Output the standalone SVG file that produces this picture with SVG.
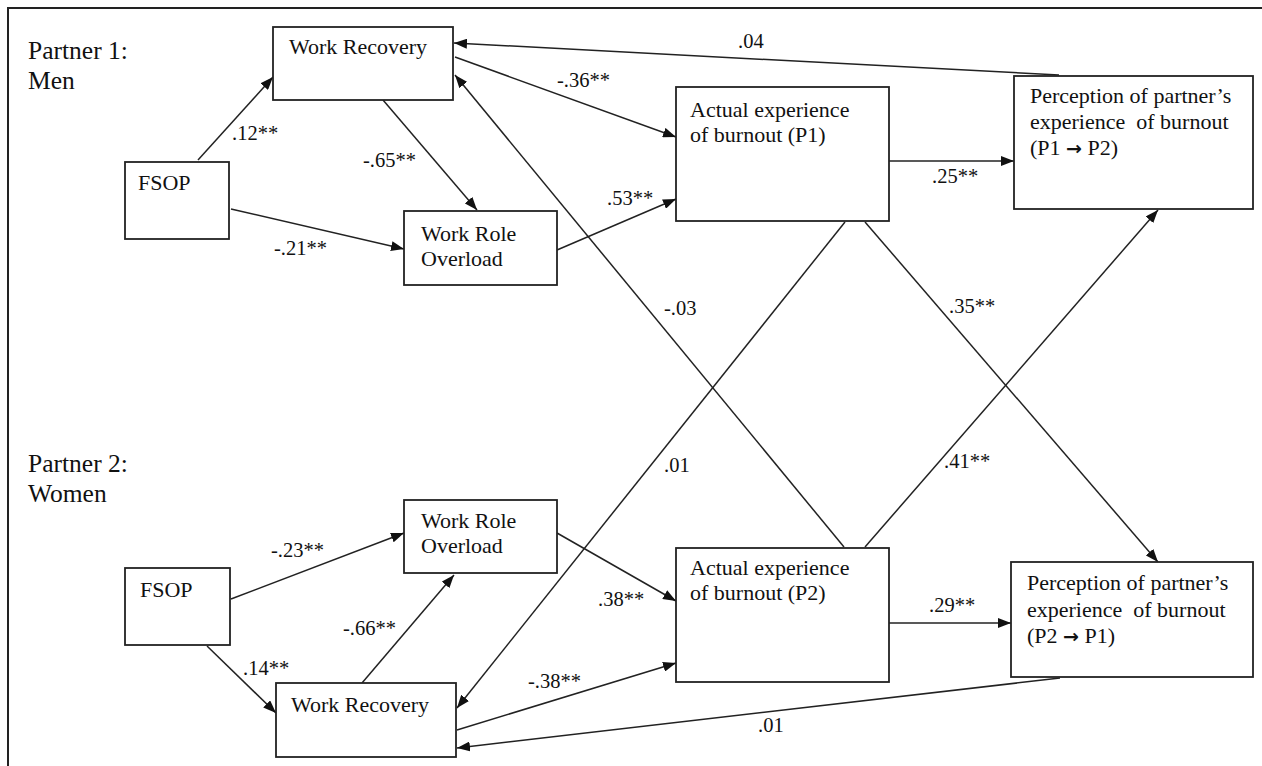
<svg xmlns="http://www.w3.org/2000/svg" width="1262" height="766" viewBox="0 0 1262 766">
<style>
.box{fill:#fff;stroke:#222;stroke-width:1.8}
.lbl{font-family:"Liberation Serif","Times New Roman",serif;font-size:22px;fill:#111}
.part{font-family:"Liberation Serif","Times New Roman",serif;font-size:25.5px;fill:#111}
.coef{font-family:"Liberation Serif","Times New Roman",serif;font-size:20.5px;fill:#111}
.ar{font-family:"DejaVu Sans",sans-serif;font-size:19px;font-weight:bold}
.edge{fill:none;stroke:#222;stroke-width:1.5;marker-end:url(#arr)}
</style>
<defs>
<marker id="arr" markerUnits="userSpaceOnUse" markerWidth="13" markerHeight="10" refX="13" refY="5" orient="auto">
<path d="M0,0 L13,5 L0,10 z" fill="#111"/>
</marker>
</defs>
<rect width="1262" height="766" fill="#fff"/>
<path d="M8,766 L8,8 L1262,8" fill="none" stroke="#222" stroke-width="2"/>
<text class="part" x="28" y="59">Partner 1:</text>
<text class="part" x="28" y="89">Men</text>
<text class="part" x="28" y="472">Partner 2:</text>
<text class="part" x="28" y="502">Women</text>

<g id="connectors">
<line class="edge" x1="198" y1="160" x2="273" y2="77"/>
<line class="edge" x1="231" y1="209" x2="404" y2="249"/>
<line class="edge" x1="383" y1="100" x2="477" y2="210"/>
<line class="edge" x1="455" y1="57" x2="676" y2="137"/>
<line class="edge" x1="557" y1="250" x2="676" y2="199"/>
<line class="edge" x1="1059" y1="75" x2="454" y2="43"/>
<line class="edge" x1="889" y1="161" x2="1014" y2="161"/>
<line class="edge" x1="844" y1="547" x2="455" y2="75"/>
<line class="edge" x1="845" y1="222" x2="457" y2="708"/>
<line class="edge" x1="865" y1="222" x2="1158" y2="562"/>
<line class="edge" x1="865" y1="547" x2="1158" y2="210"/>
<line class="edge" x1="231" y1="599" x2="404" y2="533"/>
<line class="edge" x1="207" y1="646" x2="276" y2="713"/>
<line class="edge" x1="362" y1="683" x2="454" y2="575"/>
<line class="edge" x1="557" y1="533" x2="676" y2="601"/>
<line class="edge" x1="457" y1="730" x2="676" y2="663"/>
<line class="edge" x1="889" y1="623" x2="1011" y2="623"/>
<line class="edge" x1="1060" y1="678" x2="457" y2="748"/>
<text class="coef" x="232" y="140">.12**</text>
<text class="coef" x="363" y="167">-.65**</text>
<text class="coef" x="274" y="255">-.21**</text>
<text class="coef" x="557" y="87">-.36**</text>
<text class="coef" x="738" y="48">.04</text>
<text class="coef" x="607" y="205">.53**</text>
<text class="coef" x="932" y="183">.25**</text>
<text class="coef" x="949" y="313">.35**</text>
<text class="coef" x="664" y="315">-.03</text>
<text class="coef" x="664" y="472">.01</text>
<text class="coef" x="944" y="468">.41**</text>
<text class="coef" x="271" y="557">-.23**</text>
<text class="coef" x="343" y="635">-.66**</text>
<text class="coef" x="243" y="675">.14**</text>
<text class="coef" x="598" y="606">.38**</text>
<text class="coef" x="528" y="688">-.38**</text>
<text class="coef" x="758" y="732">.01</text>
<text class="coef" x="929" y="612">.29**</text>
</g>

<g id="wr1"><rect class="box" x="273" y="27" width="180" height="73"/><text class="lbl" x="289" y="54">Work Recovery</text></g>
<g id="fsop1"><rect class="box" x="125" y="162" width="104" height="77"/><text class="lbl" x="138" y="190">FSOP</text></g>
<g id="wro1"><rect class="box" x="404" y="211" width="153" height="74"/><text class="lbl" x="421" y="241">Work Role</text><text class="lbl" x="421" y="266">Overload</text></g>
<g id="aeb1"><rect class="box" x="676" y="87" width="213" height="134"/><text class="lbl" x="690" y="117">Actual experience</text><text class="lbl" x="690" y="142">of burnout (P1)</text></g>
<g id="pp1"><rect class="box" x="1014" y="76" width="239" height="133"/><text class="lbl" x="1030" y="103">Perception of partner’s</text><text class="lbl" x="1030" y="129" xml:space="preserve">experience  of burnout</text><text class="lbl" x="1030" y="155">(P1 <tspan class="ar">→</tspan> P2)</text></g>

<g id="wro2"><rect class="box" x="404" y="500" width="153" height="73"/><text class="lbl" x="421" y="528">Work Role</text><text class="lbl" x="421" y="553">Overload</text></g>
<g id="fsop2"><rect class="box" x="125" y="568" width="105" height="77"/><text class="lbl" x="140" y="597">FSOP</text></g>
<g id="wr2"><rect class="box" x="276" y="683" width="180" height="74"/><text class="lbl" x="291" y="712">Work Recovery</text></g>
<g id="aeb2"><rect class="box" x="676" y="548" width="213" height="134"/><text class="lbl" x="690" y="575">Actual experience</text><text class="lbl" x="690" y="600">of burnout (P2)</text></g>
<g id="pp2"><rect class="box" x="1011" y="562" width="242" height="115"/><text class="lbl" x="1027" y="590">Perception of partner’s</text><text class="lbl" x="1027" y="617" xml:space="preserve">experience  of burnout</text><text class="lbl" x="1027" y="643">(P2 <tspan class="ar">→</tspan> P1)</text></g>
</svg>
